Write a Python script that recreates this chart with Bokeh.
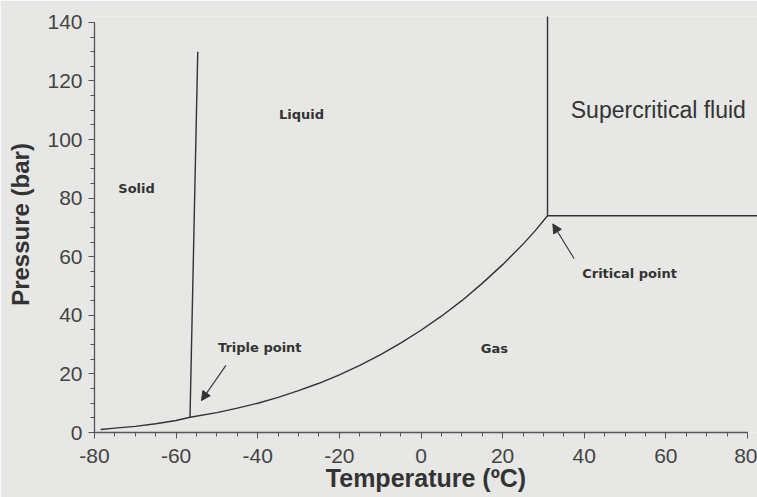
import math
from bokeh.plotting import figure
from bokeh.models import Range1d, SingleIntervalTicker, Label, Arrow, NormalHead
from bokeh.embed import file_html
from bokeh.resources import INLINE

# Vapour-pressure / sublimation curve (temperature degC, pressure bar)
curve_T = [-78.5, -75, -70, -65, -60, -56.6, -50, -45, -40, -35, -30, -25, -20, -15,
           -10, -5, 0, 5, 10, 15, 20, 25, 28, 31]
curve_P = [1.0, 1.5, 2.1, 3.0, 4.1, 5.2, 6.8, 8.3, 10.0, 12.0, 14.3, 16.8, 19.7, 22.9,
           26.5, 30.5, 34.9, 39.7, 45.0, 50.9, 57.3, 64.3, 68.9, 74.0]

# Melting line (solid/liquid)
melt_T = [-56.6, -54.7]
melt_P = [5.2, 130.0]

# Critical point and supercritical boundaries
sc_vert_T = [31.0, 31.0]
sc_vert_P = [74.0, 143.0]
sc_horiz_T = [31.0, 84.0]
sc_horiz_P = [74.0, 74.0]

# Region / annotation labels
region_names = ["Solid", "Liquid", "Gas"]
region_T = [-69.7, -29.3, 18.0]
region_P = [83.3, 108.5, 28.7]

x_ticks = [-80, -60, -40, -20, 0, 20, 40, 60, 80]
x_tick_labels = ["-80", "-60", "-40", "-20", "0", "20", "40", "60", "80"]
y_ticks = [0, 20, 40, 60, 80, 100, 120, 140]
y_tick_labels = ["0", "20", "40", "60", "80", "100", "120", "140"]

BG = "#e7e7e5"
INK = "#333333"
AX = "#555555"

p = figure(width=757, height=497, output_backend="svg", toolbar_location=None,
           x_range=Range1d(-80, 82.45), y_range=Range1d(0, 142),
           min_border_left=94, min_border_right=0, min_border_top=16, min_border_bottom=65)
p.background_fill_color = BG
p.border_fill_color = BG
p.outline_line_color = None
p.grid.visible = False

for ax in (p.xaxis[0], p.yaxis[0]):
    ax.ticker = SingleIntervalTicker(interval=20, num_minor_ticks=4)
    ax.axis_line_color = AX
    ax.axis_line_width = 1.3
    ax.major_tick_line_color = AX
    ax.minor_tick_line_color = AX
    ax.major_tick_in = 0
    ax.major_tick_out = 6
    ax.minor_tick_in = 0
    ax.minor_tick_out = 4
    ax.major_label_text_font = "Liberation Sans"
    ax.major_label_text_font_size = "21px"
    ax.major_label_text_color = "#444444"
    ax.axis_label_text_font = "Liberation Sans"
    ax.axis_label_text_font_style = "bold"
    ax.axis_label_text_color = INK

p.xaxis[0].bounds = (-80, 80)
p.yaxis[0].bounds = (0, 140)
p.xaxis[0].major_label_overrides = {t: s for t, s in zip(x_ticks, x_tick_labels)}
p.yaxis[0].major_label_overrides = {t: s for t, s in zip(y_ticks, y_tick_labels)}
p.xaxis[0].major_label_standoff = 10
p.yaxis[0].major_label_standoff = 6
p.xaxis[0].axis_label = "Temperature (ºC)"
p.yaxis[0].axis_label = "Pressure (bar)"
p.xaxis[0].axis_label_text_font_size = "25px"
p.yaxis[0].axis_label_text_font_size = "24px"
p.xaxis[0].axis_label_standoff = -2
p.yaxis[0].axis_label_standoff = 10

p.line(curve_T, curve_P, line_color=INK, line_width=1.4)
p.line(melt_T, melt_P, line_color=INK, line_width=1.4)
p.line(sc_vert_T, sc_vert_P, line_color=INK, line_width=1.4)
p.line(sc_horiz_T, sc_horiz_P, line_color=INK, line_width=1.4)

for name, t, pr in zip(region_names, region_T, region_P):
    p.add_layout(Label(x=t, y=pr, text=name, text_font="DejaVu Sans", text_font_style="bold",
                       text_font_size="13px", text_color=INK, text_align="center",
                       text_baseline="middle"))

p.add_layout(Label(x=-39.5, y=29.0, text="Triple point", text_font="DejaVu Sans",
                   text_font_style="bold", text_font_size="13px", text_color=INK,
                   text_align="center", text_baseline="middle"))
p.add_layout(Label(x=51.1, y=54.3, text="Critical point", text_font="DejaVu Sans",
                   text_font_style="bold", text_font_size="13px", text_color=INK,
                   text_align="center", text_baseline="middle"))
p.add_layout(Label(x=36.7, y=110.0, text="Supercritical fluid", text_font="Liberation Sans",
                   text_font_size="23px", text_color=INK, text_align="left",
                   text_baseline="middle"))

p.add_layout(Arrow(end=NormalHead(size=9, fill_color=INK, line_color=INK),
                   x_start=-47.8, y_start=22.9, x_end=-53.8, y_end=10.9,
                   line_color=INK, line_width=1.1))
p.add_layout(Arrow(end=NormalHead(size=9, fill_color=INK, line_color=INK),
                   x_start=37.5, y_start=59.4, x_end=32.3, y_end=71.2,
                   line_color=INK, line_width=1.1))

open("out.html", "w").write(file_html(p, INLINE))
